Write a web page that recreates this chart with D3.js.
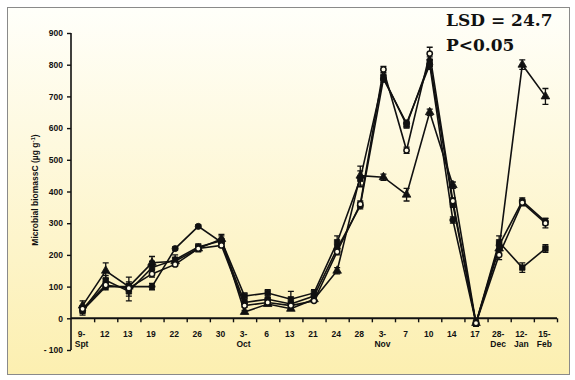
<!DOCTYPE html>
<html><head><meta charset="utf-8">
<script src="https://cdn.jsdelivr.net/npm/d3@7"></script>
<style>html,body{margin:0;padding:0;background:#fff;}</style>
</head><body>
<script>
const days = ["9-","12","13","19","22","26","30","3-","6","13","21","24","28","3-","7","10","14","17","28-","12-","15-"];
const months = ["Spt","","","","","","","Oct","","","","","","Nov","","","","","Dec","Jan","Feb"];
const yTicks = [-100,0,100,200,300,400,500,600,700,800,900];

const seriesFilledCircle = [25,100,100,100,220,290,240,50,60,45,70,220,355,755,615,800,310,-15,230,370,305];
const seriesOpenCircle   = [30,105,95,140,170,220,230,40,50,40,55,210,360,785,530,835,370,-15,200,365,300];
const seriesTriangle     = [40,150,100,175,180,220,250,20,45,30,60,150,450,445,390,650,420,-15,220,800,700];
const seriesSquare       = [25,120,85,160,185,225,245,70,80,60,80,240,440,760,610,810,360,-15,240,160,220];

const errFilledCircle = [10,10,10,10,5,5,5,5,5,5,5,10,10,10,10,15,10,5,10,10,10];
const errOpenCircle   = [10,10,10,10,5,5,5,5,5,5,5,10,10,10,10,20,10,5,15,10,15];
const errTriangle     = [15,25,30,20,10,10,10,5,5,5,5,10,30,10,20,10,10,5,15,15,25];
const errSquare       = [15,15,30,20,15,10,20,10,10,25,10,20,25,10,10,15,10,10,20,15,12];

const W = 575, H = 380;
const svg = d3.select("body").append("svg").attr("width", W).attr("height", H)
  .style("font-family", "Liberation Sans, Arial, sans-serif");

const defs = svg.append("defs");
const grad = defs.append("linearGradient").attr("id","bg").attr("x1",0).attr("y1",0).attr("x2",0).attr("y2",1);
grad.append("stop").attr("offset","0%").attr("stop-color","#fffffa");
grad.append("stop").attr("offset","100%").attr("stop-color","#fcefb0");

svg.append("rect").attr("x",7.5).attr("y",7.5).attr("width",562).attr("height",367)
  .attr("fill","url(#bg)").attr("stroke","#8a8a8a").attr("stroke-width",1);

const x = d3.scaleBand().domain(d3.range(days.length)).range([71, 557]);
const y = d3.scaleLinear().domain([-100, 900]).range([350, 33]);

// Y axis
const yAxis = svg.append("g").attr("transform","translate(71,0)")
  .call(d3.axisLeft(y).tickValues(yTicks).tickSize(4).tickPadding(4).tickFormat(d => d));
yAxis.select(".domain").attr("stroke","#111").attr("stroke-width",1.6).attr("d","M0,"+y(-100)+"V"+y(900));
yAxis.selectAll(".tick line").attr("stroke","#111").attr("stroke-width",1.4);
yAxis.selectAll(".tick text").attr("font-size",8.5).attr("font-weight","bold").attr("fill","#111");
yAxis.selectAll(".tick").filter(d => d === -100).select("text").text("- 100");

// X axis (line at y=0)
const xb = d3.scaleLinear().domain([0, days.length]).range([71, 557]);
const xAxis = svg.append("g").attr("transform","translate(0," + y(0) + ")")
  .call(d3.axisBottom(xb).tickValues(d3.range(1, days.length + 1)).tickSize(4).tickFormat(""));
xAxis.select(".domain").attr("stroke","#111").attr("stroke-width",2).attr("d","M71,0H557");
xAxis.selectAll(".tick line").attr("stroke","#111").attr("stroke-width",1.4);

const xl = svg.append("g").attr("transform","translate(0," + y(0) + ")")
  .call(d3.axisBottom(x).tickSize(0).tickPadding(13).tickFormat(i => days[i]));
xl.select(".domain").remove();
xl.selectAll(".tick text").attr("font-size",8.5).attr("font-weight","bold").attr("fill","#111")
  .attr("dx", -1);
xl.selectAll(".tick").append("text").attr("y", 29).attr("dx",-1).attr("text-anchor","middle")
  .attr("font-size",8.5).attr("font-weight","bold").attr("fill","#111").text(i => months[i]);

// Y label
svg.append("text").attr("transform","translate(38,190) rotate(-90)").attr("text-anchor","middle")
  .attr("font-size",8.5).attr("font-weight","bold").attr("fill","#111")
  .html('Microbial biomassC (µg g<tspan dy="-3" font-size="6">-1</tspan><tspan dy="3">)</tspan>');

// series
const cx = i => x(i) + x.bandwidth() / 2;
const series = [
  {v: seriesSquare, e: errSquare, m: "square"},
  {v: seriesTriangle, e: errTriangle, m: "triangle"},
  {v: seriesFilledCircle, e: errFilledCircle, m: "circle"},
  {v: seriesOpenCircle, e: errOpenCircle, m: "open"}
];
const line = d3.line().x((d,i) => cx(i)).y(d => y(d));
series.forEach(s => {
  const g = svg.append("g");
  g.append("path").attr("d", line(s.v)).attr("fill","none").attr("stroke","#111").attr("stroke-width",1.6);
  s.v.forEach((v,i) => {
    const e = s.e[i], px = cx(i);
    if (e > 0) {
      g.append("path").attr("d", `M${px},${y(v+e)}V${y(v-e)}M${px-3},${y(v+e)}H${px+3}M${px-3},${y(v-e)}H${px+3}`)
        .attr("stroke","#111").attr("stroke-width",1.3).attr("fill","none");
    }
  });
  const sym = {square: d3.symbolSquare, triangle: d3.symbolTriangle, circle: d3.symbolCircle, open: d3.symbolCircle}[s.m];
  g.selectAll("path.m").data(s.v).enter().append("path").attr("class","m")
    .attr("transform",(d,i) => `translate(${cx(i)},${y(d)})`)
    .attr("d", d3.symbol(sym, s.m === "triangle" ? 32 : (s.m === "open" ? 22 : 30)))
    .attr("fill", s.m === "open" ? "#fffbe6" : "#111")
    .attr("stroke","#111").attr("stroke-width", s.m === "open" ? 1.5 : 0.8);
});

// annotation
const ann = svg.append("g").attr("font-family","'DejaVu Serif', 'Liberation Serif', serif")
  .attr("font-weight","bold").attr("font-size",17).attr("fill","#111");
ann.append("text").attr("x",446).attr("y",26).text("LSD = 24.7");
ann.append("text").attr("x",446).attr("y",51).text("P<0.05");
</script>
</body></html>
